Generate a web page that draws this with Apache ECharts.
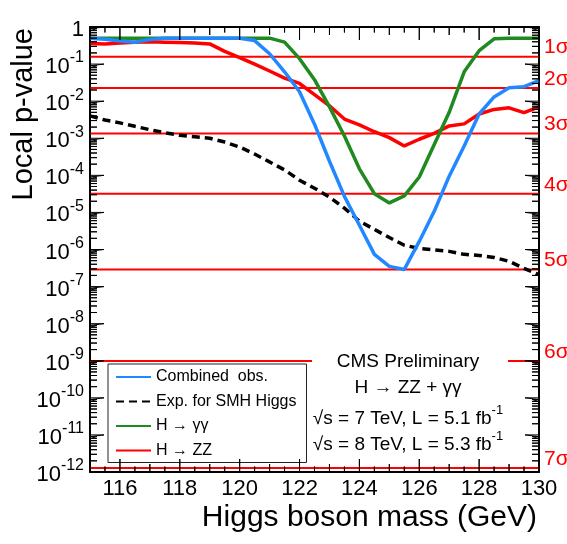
<!DOCTYPE html>
<html><head><meta charset="utf-8">
<script src="https://cdn.jsdelivr.net/npm/echarts@6/dist/echarts.min.js"></script>
<style>html,body{margin:0;padding:0;background:#fff}#c{width:567px;height:544px}</style>
</head><body><div id="c"></div>
<script>
const masses = [115,115.5,116,116.5,117,117.5,118,118.5,119,119.5,120,120.5,121,121.5,122,122.5,123,123.5,124,124.5,125,125.5,126,126.5,127,127.5,128,128.5,129,129.5,130];
const combinedObs = [0.50,0.47,0.42,0.39,0.46,0.50,0.50,0.50,0.50,0.50,0.50,0.43,0.19,0.062,0.018,0.0024,2.4e-4,2.7e-5,4.5e-6,7.4e-7,3.5e-7,2.9e-7,1.65e-6,1.07e-5,9.5e-5,6.2e-4,0.0045,0.013,0.023,0.0245,0.036];
const expectedSM = [0.0040,0.0031,0.0026,0.0021,0.0017,0.0014,0.0012,0.0011,0.0010,7.9e-4,5.8e-4,3.75e-4,2.3e-4,1.4e-4,7.4e-5,4.5e-5,2.6e-5,1.3e-5,5.8e-6,3.5e-6,2.1e-6,1.3e-6,1.07e-6,9.7e-7,8.9e-7,7.4e-7,6.9e-7,6.1e-7,4.8e-7,3.1e-7,2.1e-7];
const hGammaGamma = [0.5,0.5,0.5,0.5,0.5,0.5,0.5,0.5,0.5,0.5,0.5,0.5,0.5,0.39,0.14,0.038,0.0070,0.00115,1.5e-4,3.2e-5,1.8e-5,2.8e-5,9.0e-5,6.8e-4,0.0050,0.062,0.23,0.48,0.5,0.5,0.5];
const hZZ = [0.36,0.35,0.37,0.39,0.40,0.39,0.38,0.37,0.35,0.22,0.15,0.10,0.065,0.042,0.030,0.015,0.0075,0.0033,0.0023,0.0015,0.00104,0.00062,0.00094,0.00135,0.00215,0.00244,0.0045,0.0060,0.0066,0.0049,0.0070];
const sigmaValues = [0.1587,0.02275,0.00135,3.167e-5,2.867e-7,9.866e-10,1.280e-12];
const sigmaLabels = ['1σ','2σ','3σ','4σ','5σ','6σ','7σ'];
const xLabelValues = [116,118,120,122,124,126,128,130];
const seriesNames = ['Combined  obs.','Exp. for SMH Higgs','H \u2192 \u03b3\u03b3','H \u2192 ZZ'];

const FONT = 'Liberation Sans, Arial, Helvetica, sans-serif';
const X_MIN = 115, X_MAX = 130, Y_MIN = 1e-12, Y_MAX = 1;
const pair = arr => masses.map((m,i)=>[m,arr[i]]);
const hidden = {color:'rgba(0,0,0,0)',borderColor:'rgba(0,0,0,0)',borderWidth:0,opacity:0};

const sigmaSeries = sigmaValues.map((v,i)=>({
  name:sigmaLabels[i],type:'line',silent:true,symbol:'none',z:1,
  data:[[X_MIN,v],[X_MAX,v]],lineStyle:{color:'#f00',width:2},itemStyle:{color:'#f00'}
}));

const axLine = {show:true,onZero:false,lineStyle:{color:'#000',width:2}};

const allSeries = sigmaSeries.concat([
  {name:seriesNames[1],type:'line',data:pair(expectedSM),symbol:'none',z:3,
    lineStyle:{color:'#000',width:3.5,type:[8,5]},itemStyle:{color:'#000'}},
  {name:seriesNames[3],type:'line',data:pair(hZZ),symbol:'none',z:3,
    lineStyle:{color:'#ff0000',width:3.5},itemStyle:{color:'#ff0000'}},
  {name:seriesNames[2],type:'line',data:pair(hGammaGamma),symbol:'none',z:3,
    lineStyle:{color:'#1f8a1f',width:3.5},itemStyle:{color:'#1f8a1f'}},
  {name:seriesNames[0],type:'line',data:pair(combinedObs),symbol:'none',z:3,
    lineStyle:{color:'#2288ff',width:3.5},itemStyle:{color:'#2288ff'}}
]);

const chart = echarts.init(document.getElementById('c'), null, {renderer:'canvas'});
chart.setOption({
  animation:false,
  grid:{left:90,right:28,top:27,bottom:72},
  xAxis:[
    {type:'value',min:X_MIN,max:X_MAX,interval:1,position:'bottom',
      axisLine:axLine,axisTick:{show:false},splitLine:{show:false},
      axisLabel:{margin:6,fontSize:22,color:'#000',fontFamily:FONT,
        formatter:v=> xLabelValues.indexOf(v)>=0 ? String(v) : ''}},
    {type:'value',min:X_MIN,max:X_MAX,interval:1,position:'top',
      axisLine:axLine,axisTick:{show:false},splitLine:{show:false},axisLabel:{show:false}}
  ],
  yAxis:[
    {type:'log',logBase:10,min:Y_MIN,max:Y_MAX,interval:1,position:'left',
      axisLine:axLine,axisTick:{show:false},splitLine:{show:false},
      axisLabel:{margin:6,color:'#000',fontFamily:FONT,
        formatter:v=>{const e=Math.round(Math.log10(v)); return e===0?'{b|1}':'{b|10}{s|'+e+'}';},
        rich:{b:{fontSize:22,lineHeight:28,verticalAlign:'bottom',fontFamily:FONT,color:'#000'},
              s:{fontSize:16,lineHeight:28,verticalAlign:'top',fontFamily:FONT,color:'#000'}}}},
    {type:'log',logBase:10,min:Y_MIN,max:Y_MAX,interval:1,position:'right',
      axisLine:axLine,axisTick:{show:false},splitLine:{show:false},axisLabel:{show:false}}
  ],
  legend:{data:seriesNames.map(n=>({name:n,itemStyle:hidden})),orient:'vertical',left:108,top:364,
    padding:[5,10,4,7],itemWidth:35,itemHeight:14,itemGap:8.5,
    borderColor:'#222',borderWidth:1,backgroundColor:'#fff',
    itemStyle:hidden,
    textStyle:{fontSize:16,lineHeight:16,color:'#000',fontFamily:FONT},
    selectedMode:false},
  series:allSeries
});

// tick marks as line series traced along the axes (retrace path keeps it inside the frame)
const px = (x,y)=>chart.convertToPixel({gridIndex:0},[x,y]);
const pf = (x,y)=>chart.convertFromPixel({gridIndex:0},[x,y]);
const L = px(X_MIN,Y_MAX)[0], R = px(X_MAX,Y_MAX)[0], T = px(X_MIN,Y_MAX)[1], B = px(X_MIN,Y_MIN)[1];
const bottomTicks=[], topTicks=[], leftTicks=[], rightTicks=[];
for(let i=0;i<=30;i++){
  const v=X_MIN+i*0.5;
  const len=(v%2===0)?13:((v%1===0)?8:5.5);
  const yb=pf(L,B-len)[1], yt=pf(L,T+len)[1];
  bottomTicks.push([v,Y_MIN],[v,yb],[v,Y_MIN]);
  topTicks.push([v,Y_MAX],[v,yt],[v,Y_MAX]);
}
for(let d=-12;d<=0;d++){
  for(let k=1;k<=9;k++){
    const v=k*Math.pow(10,d); if(v>1.0001)break;
    const len=(k===1)?14:7;
    const xl=pf(L+len,T)[0], xr=pf(R-len,T)[0];
    leftTicks.push([X_MIN,v],[xl,v],[X_MIN,v]);
    rightTicks.push([X_MAX,v],[xr,v],[X_MAX,v]);
  }
}
const tickSeries = (name,data)=>({name,type:'line',data,symbol:'none',silent:true,z:5,clip:false,
  lineStyle:{color:'#000',width:1},itemStyle:{color:'#000'}});
chart.setOption({series:allSeries.concat([
  tickSeries('tb',bottomTicks),tickSeries('tt',topTicks),tickSeries('tl',leftTicks),tickSeries('tr',rightTicks)])});

// sigma labels, titles and the text block
const g = [];
sigmaValues.forEach((v,i)=>{
  const y=px(X_MAX,v)[1];
  g.push({type:'text',z:100,silent:true,x:R+5,y:y-9,style:{text:sigmaLabels[i],fontSize:21,fontFamily:FONT,fill:'#f00',align:'left',verticalAlign:'middle'}});
});
const txt=(x,y,text,size,align,extra)=>({type:'text',z:100,silent:true,x,y,
  style:Object.assign({text,fontSize:size,fontFamily:FONT,fill:'#000',align,verticalAlign:'middle'},extra||{})});
const ytitle = txt(24,28,'Local p-value',29,'right'); ytitle.rotation=Math.PI/2; g.push(ytitle);
g.push(txt(537,518,'Higgs boson mass (GeV)',30,'right'));
g.push({type:'rect',z:50,silent:true,shape:{x:312,y:348,width:196,height:108},style:{fill:'#fff'}});
g.push(txt(408,362,'CMS Preliminary',19,'center'));
g.push(txt(408,388,'H \u2192 ZZ + \u03b3\u03b3',19,'center'));
const rich={b:{fontSize:19,lineHeight:24,verticalAlign:'bottom',fontFamily:FONT,fill:'#000'},s:{fontSize:13,lineHeight:24,verticalAlign:'top',fontFamily:FONT,fill:'#000'}};
g.push(txt(408,416,'{b|\u221As = 7 TeV, L = 5.1 fb}{s|-1}',19,'center',{rich}));
g.push(txt(408,442,'{b|\u221As = 8 TeV, L = 5.3 fb}{s|-1}',19,'center',{rich}));
chart.setOption({graphic:g});
</script></body></html>
